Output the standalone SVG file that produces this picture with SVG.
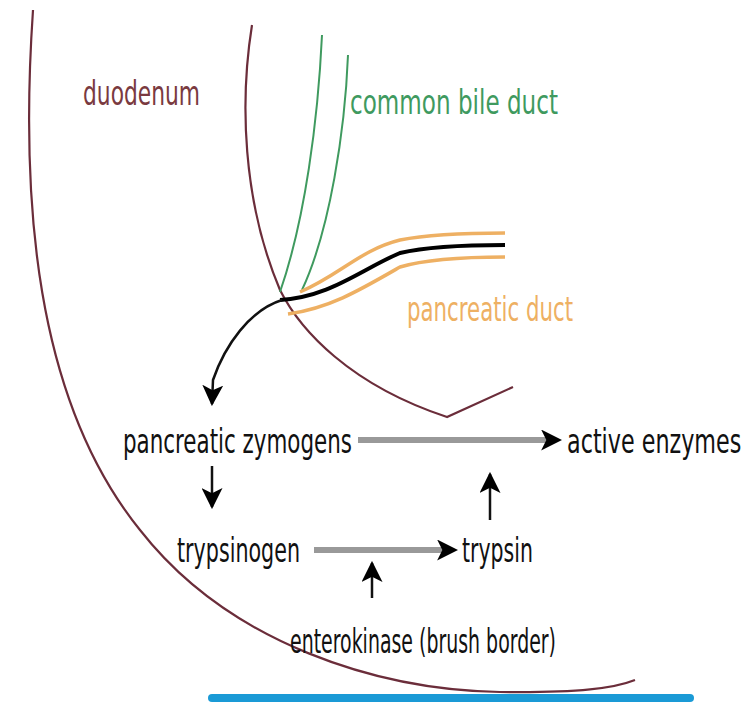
<svg xmlns="http://www.w3.org/2000/svg" width="743" height="703" viewBox="0 0 743 703">
  <style>
    .lbl { font-family: "DejaVu Sans Condensed", "Liberation Sans", sans-serif; font-size: 33px; }
    .wall { fill: none; stroke: #6b2d3a; stroke-width: 2.2; }
    .bile { fill: none; stroke: #3f9a5f; stroke-width: 2; }
    .panc { fill: none; stroke: #eeb063; stroke-width: 3.5; }
    .flow { fill: none; stroke: #999; stroke-width: 6; }
    .thin { fill: none; stroke: #111; stroke-width: 2.5; }
  </style>
  <defs>
    <marker id="head" viewBox="0 0 10 10" refX="9" refY="5" markerWidth="21" markerHeight="21" markerUnits="userSpaceOnUse" orient="auto">
      <path d="M0,0 L10,5 L0,10 L2.5,5 Z" fill="#000"/>
    </marker>
  </defs>
  <rect width="743" height="703" fill="#fff"/>

  <!-- duodenum walls -->
  <g id="duodenum">
    <path class="wall" d="M33,10 C20,200 35,400 140,530 C230,645 380,690 500,692 C580,693 615,688 635,680"/>
    <path class="wall" d="M252,25 C240,100 242,200 280,290 C300,330 350,385 447,417 L513,387"/>
    <text class="lbl" x="83" y="105" fill="#7a3a40" textLength="117" lengthAdjust="spacingAndGlyphs">duodenum</text>
  </g>

  <!-- common bile duct -->
  <g id="bile-duct">
    <path class="bile" d="M322,35 C318,120 305,220 280,292"/>
    <path class="bile" d="M348,55 C345,130 330,230 302,290"/>
    <text class="lbl" x="350" y="114" fill="#3f9a5f" textLength="208" lengthAdjust="spacingAndGlyphs">common bile duct</text>
  </g>

  <!-- pancreatic duct -->
  <g id="pancreatic-duct">
    <path class="panc" d="M300,292 C340,275 360,250 400,240 C430,234 470,233 505,233"/>
    <path class="panc" d="M288,314 C330,308 360,290 400,267 C430,258 470,257 505,257"/>
    <path fill="none" stroke="#000" stroke-width="4" d="M280,300 C330,297 360,270 400,253 C430,246 470,245 505,245"/>
    <text class="lbl" x="407" y="321" fill="#eeb063" textLength="166" lengthAdjust="spacingAndGlyphs">pancreatic duct</text>
  </g>

  <g id="zymogens">
    <text class="lbl" x="123" y="453" fill="#111" textLength="229" lengthAdjust="spacingAndGlyphs">pancreatic zymogens</text>
  </g>
  <g id="active-enzymes">
    <text class="lbl" transform="translate(567 453) scale(0.75 1)" x="0" y="0" fill="#111">active enzymes</text>
  </g>
  <g id="trypsinogen">
    <text class="lbl" x="177" y="562" fill="#111" textLength="123" lengthAdjust="spacingAndGlyphs">trypsinogen</text>
  </g>
  <g id="trypsin">
    <text class="lbl" x="462" y="562" fill="#111" textLength="71" lengthAdjust="spacingAndGlyphs">trypsin</text>
  </g>
  <g id="enterokinase">
    <text class="lbl" x="290" y="653" fill="#111" textLength="266" lengthAdjust="spacingAndGlyphs">enterokinase (brush border)</text>
  </g>

  <!-- connectors -->
  <g id="connectors">
    <path class="thin" d="M282,300 C250,310 225,345 213,380 L212,404" marker-end="url(#head)"/>
    <path class="flow" d="M358,440 L548,440"/>
    <path d="M545,440 L560,440" stroke="none" marker-end="url(#head)"/>
    <path class="thin" d="M212,466 L212,507" marker-end="url(#head)"/>
    <path class="thin" d="M490,520 L490,474" marker-end="url(#head)"/>
    <path class="flow" d="M314,550 L444,550"/>
    <path d="M440,550 L456,550" stroke="none" marker-end="url(#head)"/>
    <path class="thin" d="M372,598 L372,563" marker-end="url(#head)"/>
  </g>

  <line x1="212" y1="698" x2="690" y2="698" stroke="#1a9ad6" stroke-width="8" stroke-linecap="round"/>
</svg>
